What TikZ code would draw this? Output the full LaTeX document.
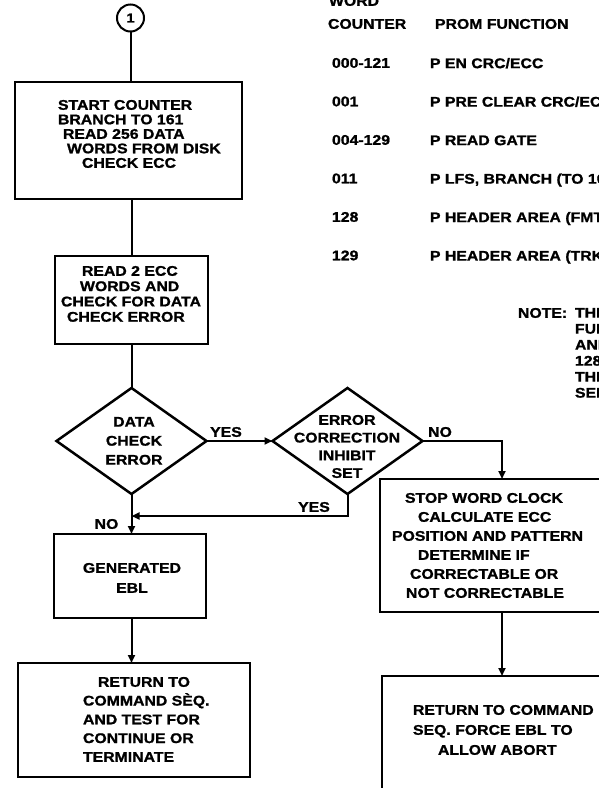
\documentclass[tikz,border=0pt]{standalone}
\usepackage{fontspec}
\newfontfamily\hv[FakeStretch=1.13,FakeBold=1.2]{Liberation Sans}
\usetikzlibrary{shapes.geometric,arrows.meta}
\begin{document}
\begin{tikzpicture}[x=1pt,y=-1pt,
  every node/.style={inner sep=0pt, outer sep=0pt},
  box/.style={draw, rectangle, line width=2.5pt},
  dia/.style={draw, diamond, line width=2.5pt, minimum width=150pt, minimum height=106pt},
  conn/.style={line width=2pt},
  arr/.style={conn, -{Triangle[length=8pt,width=7pt]}},
  txt/.style={font=\hv\bfseries\fontsize{14}{#1}\selectfont, align=left, anchor=north west},
  txt/.default=16,
  ctxt/.style={font=\hv\bfseries\fontsize{14}{#1}\selectfont, align=center, anchor=north},
  ctxt/.default=16,
  lbl/.style={font=\hv\bfseries\fontsize{14}{16}\selectfont}]
\useasboundingbox (0,0) rectangle (599,788);
\clip (0,0) rectangle (599,788);
\fill[white] (0,0) rectangle (599,788);

% flow shapes
\node[draw, circle, line width=2pt, minimum size=27pt, font=\hv\bfseries\fontsize{13}{13}\selectfont] (c1) at (130.5,18) {1};
\node[box, minimum width=227pt, minimum height=117pt] (b1) at (128.5,140.5) {};
\node[box, minimum width=153pt, minimum height=88pt] (b2) at (131.5,300) {};
\node[dia] (d1) at (131.5,441) {};
\node[dia] (d2) at (347.5,441) {};
\node[box, minimum width=244pt, minimum height=133pt] (b3) at (502,545.5) {};
\node[box, minimum width=152pt, minimum height=84pt] (b4) at (130,576) {};
\node[box, minimum width=232pt, minimum height=114pt] (b5) at (134,720) {};
\node[box, minimum width=240pt, minimum height=124pt] (b6) at (502,738) {};
\coordinate (j) at (131.5,516);

% connectors
\draw[conn] (c1.south) -- (c1.south |- b1.north);
\draw[conn] (b1.south -| d1.north) -- (b2.north -| d1.north);
\draw[conn] (b2.south -| d1.north) -- (d1.north);
\draw[arr] (d1.east) -- (d2.west);
\draw[arr] (d2.east) -| (b3.north);
\draw[arr] (d2.south) |- (j);
\draw[arr] (d1.south) -- (d1.south |- b4.north);
\draw[arr] (b4.south -| d1.south) -- (b5.north -| d1.south);
\draw[arr] (b3.south) -- (b6.north);

% labels
\node[lbl] (yes1) at (226,432) {YES};
\node[lbl] (no1) at (440,432) {NO};
\node[lbl] (yes2) at (314,507) {YES};
\node[lbl] (no2) at (106.5,524) {NO};

% box texts
\node[txt=14.5] (b1t) at (58,100) {START COUNTER\\ BRANCH TO 161\\ \hspace*{5pt}READ 256 DATA\\ \hspace*{9pt}WORDS FROM DISK\\ \hspace*{24pt}CHECK ECC};
\node[txt=15.3] (b2t) at (61,266) {\hspace*{21pt}READ 2 ECC\\ \hspace*{19pt}WORDS AND\\ CHECK FOR DATA\\ \hspace*{6pt}CHECK ERROR};
\node[ctxt=19] (d1t) at (134,417) {DATA\\ CHECK\\ ERROR};
\node[ctxt=17.7] (d2t) at (347,415) {ERROR\\ CORRECTION\\ INHIBIT\\ SET};
\node[txt=19] (b3t) at (392,493) {\hspace*{13pt}STOP WORD CLOCK\\ \hspace*{26pt}CALCULATE ECC\\ POSITION AND PATTERN\\ \hspace*{26pt}DETERMINE IF\\ \hspace*{18pt}CORRECTABLE OR\\ \hspace*{14pt}NOT CORRECTABLE};
\node[ctxt=20] (b4t) at (132,563) {GENERATED\\ EBL};
\node[txt=18.75] (b5t) at (83,677) {\hspace*{15pt}RETURN TO\\ COMMAND SÈQ.\\ AND TEST FOR\\ CONTINUE OR\\ TERMINATE};
\node[txt=20] (b6t) at (413,705) {RETURN TO COMMAND\\ SEQ. FORCE EBL TO\\ \hspace*{25pt}ALLOW ABORT};

% table
\node[txt] (wd) at (329,-4) {WORD};
\node[txt] (cnt) at (328,19) {COUNTER};
\node[txt] (pf) at (435,19) {PROM FUNCTION};
\node[txt=38.5] (wc) at (332,58) {000-121\\ 001\\ 004-129\\ 011\\ 128\\ 129};
\node[txt=38.5] (pfn) at (430,58) {P EN CRC/ECC\\ P PRE CLEAR CRC/ECC\\ P READ GATE\\ P LFS, BRANCH (TO 161)\\ P HEADER AREA (FMT)\\ P HEADER AREA (TRK)};

% note
\node[txt] (nt) at (518,308) {NOTE:};
\node[txt=16] (ntx) at (575,308) {THE\\ FUNCTION\\ AND\\ 128\\ THE\\ SEE};
\end{tikzpicture}
\end{document}
